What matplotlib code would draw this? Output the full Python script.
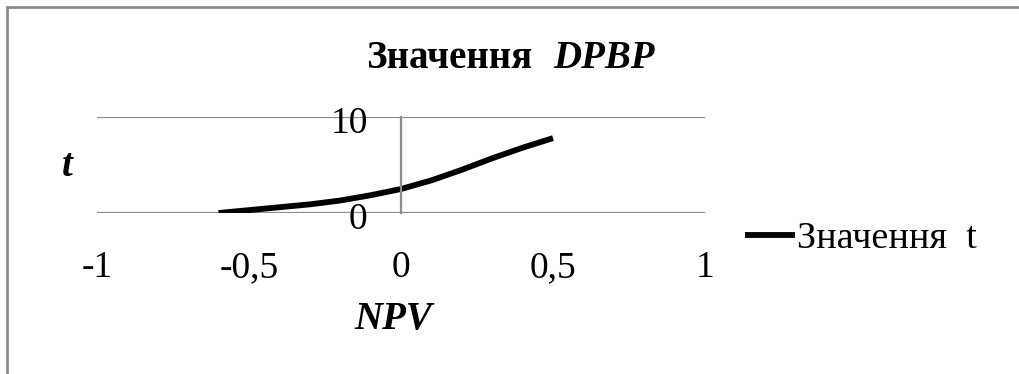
import matplotlib.pyplot as plt
import matplotlib.transforms as mtransforms
from matplotlib.patches import Rectangle

# NPV vs discounted payback period
npv = [-0.6, -0.5, -0.4, -0.3, -0.2, -0.1, 0.0, 0.1, 0.2, 0.3, 0.4, 0.5]
t_values = [0.0, 0.3, 0.6, 0.9, 1.3, 1.85, 2.5, 3.4, 4.5, 5.7, 6.8, 7.8]
x_ticks = [-1, -0.5, 0, 0.5, 1]
x_labels = ['-1', '-0,5', '0', '0,5', '1']
y_ticks = [0, 10]
y_labels = ['0', '10']

plt.rcParams['font.family'] = ['Liberation Serif', 'DejaVu Serif']

W, H = 1019, 374
fig = plt.figure(figsize=(W / 100, H / 100), dpi=100)
ax = fig.add_axes([97 / W, 1 - 213 / H, 608 / W, 96 / H])

grey = '#8c8c8c'
ax.plot(npv, t_values, color='black', lw=4.2, solid_capstyle='butt',
        solid_joinstyle='round', label='Значення  t')

ax.set_xlim(-1, 1)
ax.set_ylim(0, 10)
for y in y_ticks:
    ax.axhline(y, color=grey, lw=1.6, zorder=0)

for side in ['top', 'right', 'bottom']:
    ax.spines[side].set_visible(False)
ax.spines['left'].set_position(('data', 0))
ax.spines['left'].set_color(grey)
ax.spines['left'].set_linewidth(1.6)

ax.set_xticks(x_ticks, x_labels)
ax.set_yticks(y_ticks, y_labels)
ax.tick_params(axis='x', length=0, pad=27, labelsize=27)
ax.tick_params(axis='y', length=0, pad=24, labelsize=27)
shift = mtransforms.ScaledTranslation(0, -2 / 72, fig.dpi_scale_trans)
for lab in ax.get_yticklabels():
    lab.set_transform(lab.get_transform() + shift)

# title: regular word in bold, abbreviation in bold italic
fig.text(532 / W, 1 - 59 / H, 'Значення', ha='right', va='center',
         fontsize=28, fontweight='bold')
fig.text(553 / W, 1 - 59 / H, 'DPBP', ha='left', va='center',
         fontsize=28, fontweight='bold', fontstyle='italic')

fig.text(67 / W, 1 - 167 / H, 't', ha='center', va='center',
         fontsize=28, fontweight='bold', fontstyle='italic')
fig.text(393 / W, 1 - 319 / H, 'NPV', ha='center', va='center',
         fontsize=28, fontweight='bold', fontstyle='italic')

ax.legend(loc='center left', bbox_to_anchor=(745 / W, 1 - 239 / H),
          bbox_transform=fig.transFigure, frameon=False, fontsize=27.5,
          handlelength=1.3, handletextpad=0.05, borderpad=0, borderaxespad=0)

# chart area border (only top and left edges fall inside the image)
fig.add_artist(Rectangle((7 / W, -0.2), 1.2, 1 - 7 / H + 0.2,
                         transform=fig.transFigure, fill=False,
                         edgecolor=grey, lw=2.0))

fig.savefig('out.png', dpi=100)
